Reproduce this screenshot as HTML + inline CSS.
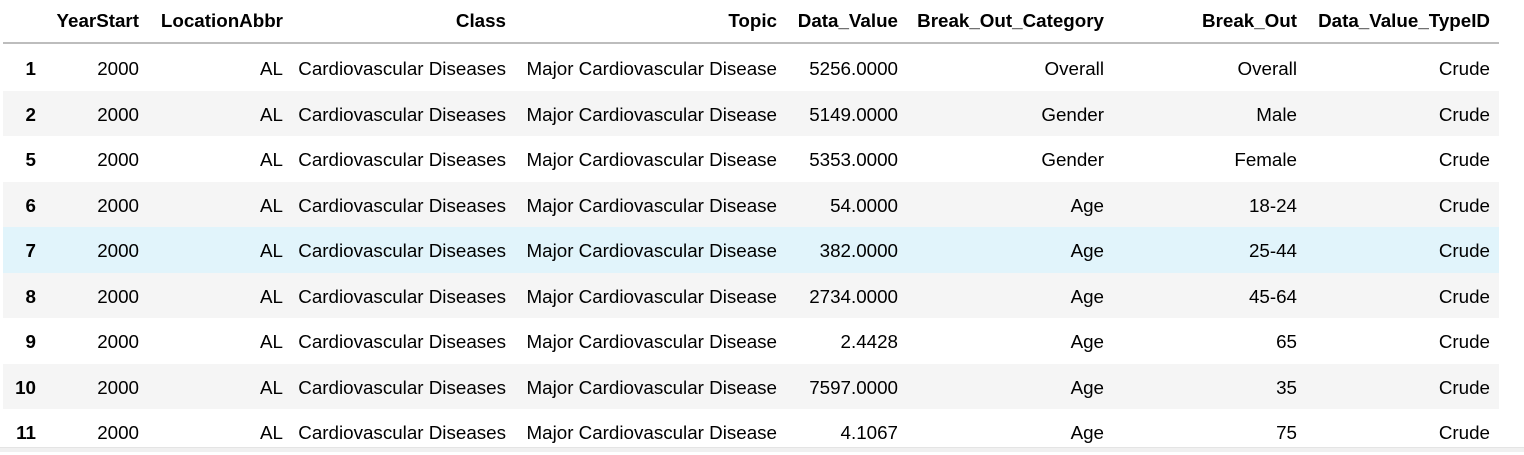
<!DOCTYPE html>
<html><head><meta charset="utf-8"><style>
body{margin:0;width:1524px;height:451px;background:#fff;overflow:hidden;font-family:"Liberation Sans",sans-serif;font-size:18.8px;color:#000;position:relative}
.c{position:absolute;white-space:nowrap;text-align:right;line-height:20px}
.h{font-weight:bold}
.row{position:absolute;left:3px;width:1496px;height:45.5px}
.hdr{position:absolute;left:3px;width:1496px;top:42px;height:1.5px;background:#bdbdbd}
.sb{position:absolute;left:0;top:447px;width:1524px;height:4px;background:#f0f0f0;border-top:1px solid #e4e4e4}
</style></head><body>
<div id="t"></div>
<div class="hdr"></div>
<div class="sb"></div>
<script>
const headers=["","YearStart","LocationAbbr","Class","Topic","Data_Value","Break_Out_Category","Break_Out","Data_Value_TypeID"];
const rights=[36,139,283,506,777,898,1104,1297,1490];
const idx=["1","2","5","6","7","8","9","10","11"];
const values=["5256.0000","5149.0000","5353.0000","54.0000","382.0000","2734.0000","2.4428","7597.0000","4.1067"];
const cats=["Overall","Gender","Gender","Age","Age","Age","Age","Age","Age"];
const outs=["Overall","Male","Female","18-24","25-44","45-64","65","35","75"];
const t=document.getElementById('t');
function cell(txt,right,cy,bold,name){
  const d=document.createElement('div');
  d.className='c'+(bold?' h':'');
  d.textContent=txt;
  d.style.right=(1524-right)+'px';
  d.style.top=(cy-10)+'px';
  
  
  t.appendChild(d);
}
headers.forEach((h,i)=>{ if(h) cell(h,rights[i],21,true,'header-'+h.toLowerCase().replace(/_/g,'-')); });
idx.forEach((ix,r)=>{
  const top=45+r*45.5;
  const bg=document.createElement('div');
  bg.className='row';
  bg.style.top=top+'px';
  bg.style.background=r===4?'#e1f4fb':(r%2===1?'#f5f5f5':'#fff');
  
  
  t.appendChild(bg);
  const cy=top+24;
  const vals=[ix,"2000","AL","Cardiovascular Diseases","Major Cardiovascular Disease",values[r],cats[r],outs[r],"Crude"];
  vals.forEach((v,i)=>{
    cell(v,rights[i],cy,i===0,'cell-'+ix+'-'+(headers[i]||'index').toLowerCase().replace(/_/g,'-'));
  });
});
</script>
</body></html>
